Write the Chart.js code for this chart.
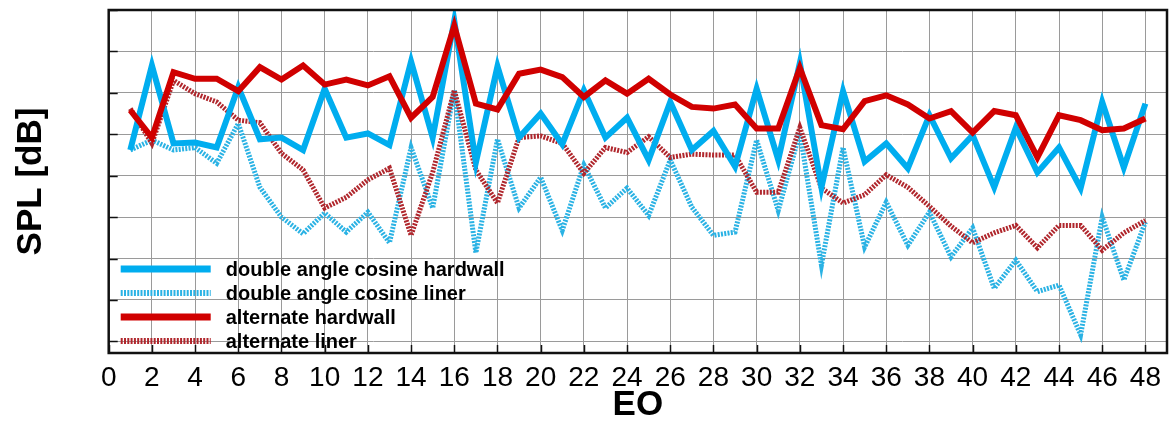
<!DOCTYPE html>
<html>
<head>
<meta charset="utf-8">
<script src="https://cdn.jsdelivr.net/npm/chart.js@4.4.1/dist/chart.umd.min.js"></script>
<style>
    html, body { margin: 0; padding: 0; background: #ffffff; }
    #wrap { width: 1169px; height: 421px; }
</style>
</head>
<body>
<div id="wrap"><canvas id="splChart"></canvas></div>
<script>
// --- data (SPL per engine order, dB) ---
const engineOrders = [1,2,3,4,5,6,7,8,9,10,11,12,13,14,15,16,17,18,19,20,21,22,23,24,
                      25,26,27,28,29,30,31,32,33,34,35,36,37,38,39,40,41,42,43,44,45,46,47,48];
const xTickLabels = [0,2,4,6,8,10,12,14,16,18,20,22,24,26,28,30,32,34,36,38,40,42,44,46,48];

const dacHardwall = [83.1,93.3,83.9,84.0,83.4,90.7,84.4,84.6,83.1,90.5,84.6,85.1,83.7,93.8,84.6,98.7,
                     81.6,93.2,84.6,87.5,83.8,90.3,84.6,87.0,81.9,88.9,83.1,85.4,81.1,90.5,81.9,93.6,
                     78.6,90.2,81.7,83.9,80.9,87.3,82.1,84.9,78.6,85.8,80.4,83.4,78.5,88.9,81.0,88.7];
const dacLiner = [83.1,84.3,83.1,83.4,81.5,86.3,78.6,75.0,73.0,75.5,73.2,75.6,71.9,83.4,76.1,90.3,
                  70.7,84.4,76.1,79.8,73.4,81.3,76.1,78.5,75.2,81.9,76.2,72.8,73.2,84.3,75.8,85.2,
                  69.2,83.4,71.4,76.8,71.6,75.6,70.2,73.7,66.4,69.8,66.0,66.8,60.8,75.0,67.4,74.4];
const altHardwall = [87.9,84.6,92.5,91.7,91.7,90.2,93.1,91.6,93.3,91.0,91.6,90.9,92.0,87.0,89.5,98.1,
                     88.7,88.0,92.3,92.8,91.9,89.5,91.5,89.9,91.7,89.8,88.3,88.1,88.6,85.7,85.7,93.0,
                     86.1,85.6,89.0,89.7,88.6,86.9,87.8,85.2,87.8,87.3,82.2,87.3,86.7,85.5,85.7,86.9];
const altLiner = [88.1,83.9,91.5,89.9,88.9,86.7,86.4,82.7,80.7,76.1,77.4,79.5,80.9,72.8,80.4,90.3,
                  80.7,76.7,84.6,84.8,83.9,80.3,83.4,82.8,84.7,82.2,82.6,82.5,82.5,78.0,78.0,85.8,
                  78.5,76.7,77.7,80.1,78.6,76.3,73.9,71.9,73.1,74.0,71.3,74.0,74.0,71.0,73.1,74.6];

const seriesLabels = ['double angle cosine hardwall', 'double angle cosine liner',
                      'alternate hardwall', 'alternate liner'];

function toPoints(values) {
    return values.map((v, i) => ({ x: engineOrders[i], y: v }));
}

// frame + inward tick marks like the original plot
const frameTicks = {
    id: 'frameTicks',
    afterDraw(chart) {
        const { ctx, chartArea: a, scales } = chart;
        ctx.save();
        ctx.strokeStyle = '#111';
        ctx.lineWidth = 1.5;
        scales.x.ticks.forEach(t => {
            const px = Math.round(scales.x.getPixelForValue(t.value)) + 0.5;
            ctx.beginPath(); ctx.moveTo(px, a.bottom); ctx.lineTo(px, a.bottom - 8); ctx.stroke();
        });
        scales.y.ticks.forEach(t => {
            const py = Math.round(scales.y.getPixelForValue(t.value)) + 0.5;
            ctx.beginPath(); ctx.moveTo(a.left, py); ctx.lineTo(a.left + 9, py); ctx.stroke();
        });
        ctx.lineWidth = 2.5;
        ctx.strokeRect(a.left, a.top, a.right - a.left, a.bottom - a.top);
        ctx.restore();
    }
};

// legend drawn inside the plot, lower left
const innerLegend = {
    id: 'innerLegend',
    afterDatasetsDraw(chart) {
        const { ctx, chartArea: a } = chart;
        const ds = chart.data.datasets;
        ctx.save();
        ctx.font = 'bold 20px "Liberation Sans", Arial, sans-serif';
        ctx.textBaseline = 'middle';
        ctx.fillStyle = '#000';
        ds.forEach((d, i) => {
            const y = a.bottom - 12 - 24 * (ds.length - 1 - i);
            ctx.strokeStyle = d.borderColor;
            ctx.lineWidth = d.borderDash.length ? 6 : 7;
            ctx.setLineDash(d.borderDash);
            ctx.beginPath(); ctx.moveTo(a.left + 12, y); ctx.lineTo(a.left + 102, y); ctx.stroke();
            ctx.setLineDash([]);
            ctx.fillText(d.label, a.left + 117, y + 1);
        });
        ctx.restore();
    }
};

Chart.defaults.font.family = '"Liberation Sans", Arial, sans-serif';
Chart.defaults.color = '#000';

const ctx = document.getElementById('splChart').getContext('2d');
new Chart(ctx, {
    type: 'line',
    data: {
        datasets: [
            { label: seriesLabels[0], data: toPoints(dacHardwall), borderColor: '#00adef',
              borderWidth: 6, borderDash: [], order: 2 },
            { label: seriesLabels[1], data: toPoints(dacLiner), borderColor: '#2ab2e4',
              borderWidth: 5, borderDash: [2, 1.3], order: 4 },
            { label: seriesLabels[2], data: toPoints(altHardwall), borderColor: '#d00000',
              borderWidth: 6, borderDash: [], order: 1 },
            { label: seriesLabels[3], data: toPoints(altLiner), borderColor: '#b0262c',
              borderWidth: 5, borderDash: [2, 1.3], order: 3 }
        ]
    },
    options: {
        responsive: true,
        maintainAspectRatio: false,
        animation: false,
        layout: { padding: { left: 0, right: 1, top: 10, bottom: 0 } },
        elements: { point: { radius: 0 }, line: { tension: 0, borderJoinStyle: 'miter' } },
        plugins: { legend: { display: false }, tooltip: { enabled: false } },
        scales: {
            x: {
                type: 'linear',
                min: 0, max: 49,
                afterFit: s => { s.height = 68; },
                afterBuildTicks: s => { s.ticks = xTickLabels.map(v => ({ value: v })); },
                ticks: { stepSize: 2, includeBounds: false, autoSkip: false, maxRotation: 0,
                         padding: 8, font: { size: 28 } },
                grid: { color: '#9a9a9a', lineWidth: 1, drawTicks: false },
                border: { display: false },
                title: { display: true, text: 'EO', font: { size: 35, weight: 'bold', lineHeight: 1 },
                         padding: { top: 0, bottom: -1.5 } }
            },
            y: {
                min: 58.6, max: 100,
                afterFit: s => { s.width = 108.7; },
                ticks: { stepSize: 5, includeBounds: false, display: false },
                grid: { color: '#9a9a9a', lineWidth: 1, drawTicks: false },
                border: { display: false },
                title: { display: true, text: 'SPL [dB]', font: { size: 35, weight: 'bold', lineHeight: 1 },
                         padding: { top: 13.5, bottom: 0 } }
            }
        }
    },
    plugins: [frameTicks, innerLegend]
});
</script>
</body>
</html>
